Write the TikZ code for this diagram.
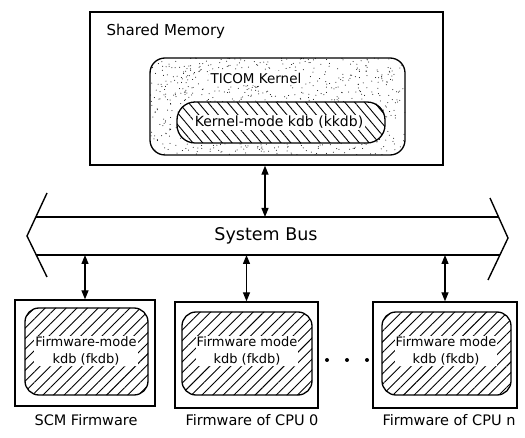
\documentclass[tikz,border=0pt]{standalone}
\usepackage{fontspec}
\setmainfont{DejaVu Sans}
\usetikzlibrary{patterns.meta,arrows.meta,calc}
\begin{document}
\begin{tikzpicture}[x=1pt,y=-1pt,
  outerbox/.style={draw,line width=1.3pt,fill=white,inner sep=0pt},
  hatchbox/.style={draw,line width=1.3pt,rounded corners=14pt,inner sep=0pt,
     pattern={Lines[angle=45,distance=7.5pt,line width=0.9pt]}},
  kkdbbox/.style={draw,line width=1.3pt,rounded corners=18pt,inner sep=0pt,fill=white,
     postaction={pattern={Lines[angle=-50,distance=7.5pt,line width=0.9pt]}}},
  kernbox/.style={draw,line width=1.3pt,rounded corners=15pt,inner sep=0pt,
     path picture={\foreach \i in {1,...,900}{\fill ([xshift={260*rnd},yshift={100*rnd}]path picture bounding box.south west) circle (0.5pt);}}},
  txt/.style={fill=white,inner sep=1.5pt},
  ftxt/.style={fill=white,inner sep=1pt,align=center,font=\fontsize{13}{17}\selectfont},
  lbl/.style={font=\fontsize{14.5}{16}\selectfont},
  dbl/.style={{Triangle[length=9pt,width=7pt]}-{Triangle[length=9pt,width=7pt]},line width=1.2pt},
  bus/.style={line width=1.4pt}]
\useasboundingbox (0,0) rectangle (525,438);
\pgfmathsetseed{7}
% Shared memory
\node[outerbox,minimum width=353,minimum height=153] (sm) at (266.5,88.5) {};
\node[anchor=west,font=\fontsize{15}{17}\selectfont] (smt) at (103,31) {Shared Memory};
\node[kernbox,minimum width=255,minimum height=97] (kern) at (277.5,106.5) {};
\node[txt,font=\fontsize{13.5}{15}\selectfont] (kernt) at (256,78) {TICOM Kernel};
\node[kkdbbox,minimum width=208,minimum height=41] (kkdb) at (281,122.5) {};
\node[txt,font=\fontsize{14}{16}\selectfont] (kkdbt) at (279,122.5) {Kernel-mode kdb (kkdb)};
% Bus
\coordinate (lt) at (27,236);
\coordinate (lu) at (47,193);
\coordinate (ll) at (47,277);
\coordinate (rt) at (508,238);
\coordinate (ru) at (490,198);
\coordinate (rl) at (488,280);
\coordinate (bul) at (36,217);
\coordinate (bur) at (499,217);
\coordinate (bll) at (36,255);
\coordinate (blr) at (500,255);
\draw[bus] (lu) -- (lt) -- (ll);
\draw[bus] (ru) -- (rt) -- (rl);
\draw[bus] (bul) -- (bur);
\draw[bus] (bll) -- (blr);
\node[font=\fontsize{17.5}{19}\selectfont] (bust) at (266,236) {System Bus};
% Firmware boxes
\node[outerbox,minimum width=140,minimum height=106] (f1) at (85,353) {};
\node[hatchbox,minimum width=123,minimum height=87] (f1i) at (86.5,351.5) {};
\node[ftxt] (f1t) at (86,351) {Firmware-mode\\kdb (fkdb)};
\node[outerbox,minimum width=143,minimum height=106] (f2) at (246.5,355) {};
\node[hatchbox,minimum width=130,minimum height=83] (f2i) at (247,353.5) {};
\node[ftxt] (f2t) at (247,351) {Firmware mode\\kdb (fkdb)};
\node[outerbox,minimum width=144,minimum height=106] (f3) at (445,355) {};
\node[hatchbox,minimum width=129,minimum height=83] (f3i) at (446.5,353.5) {};
\node[ftxt] (f3t) at (446,351) {Firmware mode\\kdb (fkdb)};
\node[lbl] (l1) at (86,420) {SCM Firmware};
\node[lbl] (l2) at (252,420) {Firmware of CPU 0};
\node[lbl] (l3) at (449,420) {Firmware of CPU n};
% dots
\fill (327,360) circle (2pt) (347,360) circle (2pt) (367,360) circle (2pt);
% arrows
\coordinate (a0) at (265,217);
\draw[dbl] (sm.south -| a0) -- (a0);
\coordinate (b1) at (f1.north |- bll);
\coordinate (b2) at (f2.north |- bll);
\coordinate (b3) at (f3.north |- bll);
\draw[dbl] (b1) -- (f1.north);
\draw[dbl] (b2) -- (f2.north);
\draw[dbl] (b3) -- (f3.north);
\end{tikzpicture}
\end{document}
